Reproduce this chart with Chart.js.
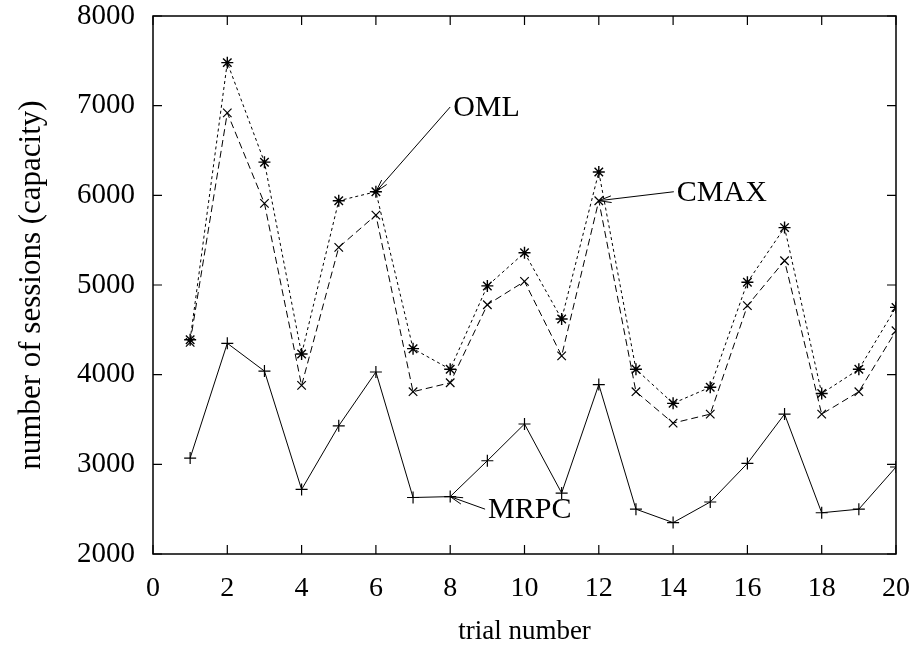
<!DOCTYPE html>
<html>
<head>
<meta charset="utf-8">
<script src="https://cdn.jsdelivr.net/npm/chart.js@4.4.1/dist/chart.umd.min.js"></script>
<style>
  html, body { margin: 0; padding: 0; background: #fff; }
  #wrap { width: 915px; height: 651px; }
</style>
</head>
<body>
<div id="wrap"><canvas id="line_chart" width="915" height="651"></canvas></div>
<script>
var trials = [1, 2, 3, 4, 5, 6, 7, 8, 9, 10, 11, 12, 13, 14, 15, 16, 17, 18, 19, 20];
var oml  = [4390, 7480, 6370, 4230, 5940, 6040, 4290, 4060, 4990, 5360, 4620, 6260, 4060, 3680, 3860, 5030, 5640, 3790, 4060, 4750];
var cmax = [4360, 6920, 5910, 3880, 5420, 5780, 3810, 3910, 4780, 5040, 4210, 5940, 3810, 3460, 3560, 4770, 5270, 3560, 3810, 4490];
var mrpc = [3070, 4350, 4040, 2720, 3430, 4030, 2630, 2640, 3040, 3450, 2680, 3890, 2500, 2350, 2580, 3010, 3560, 2460, 2500, 2970];
var xTicks = [0, 2, 4, 6, 8, 10, 12, 14, 16, 18, 20];
var yTicks = [2000, 3000, 4000, 5000, 6000, 7000, 8000];

// labels with arrows pointing at a series point
var labelNames = ['OML', 'CMAX', 'MRPC'];
var labelSeries = [oml, cmax, mrpc];
var labelTrial = [6, 12, 8];

var serif = '"Liberation Serif", "Times New Roman", serif';

function toPoints(ys) {
    return trials.map(function (t, i) { return { x: t, y: ys[i] }; });
}

var frame = {
    id: 'frame',
    afterDraw: function (chart) {
        var ctx = chart.ctx, a = chart.chartArea;
        var xs = chart.scales.x, ys = chart.scales.y;
        ctx.save();
        ctx.strokeStyle = '#000';
        ctx.lineWidth = 1.5;
        ctx.strokeRect(a.left, a.top, a.right - a.left, a.bottom - a.top);
        ctx.lineWidth = 1.2;
        ctx.beginPath();
        xTicks.forEach(function (v) {
            var px = xs.getPixelForValue(v);
            ctx.moveTo(px, a.bottom); ctx.lineTo(px, a.bottom - 9);
            ctx.moveTo(px, a.top); ctx.lineTo(px, a.top + 9);
        });
        yTicks.forEach(function (v) {
            var py = ys.getPixelForValue(v);
            ctx.moveTo(a.left, py); ctx.lineTo(a.left + 9, py);
            ctx.moveTo(a.right, py); ctx.lineTo(a.right - 9, py);
        });
        ctx.stroke();

        // annotations (text position in data units)
        var textPos = [[8.08, 6985], [14.1, 6040], [9.02, 2500]];
        ctx.font = '30px ' + serif;
        ctx.fillStyle = '#000';
        ctx.textBaseline = 'middle';
        ctx.lineWidth = 1;
        labelNames.forEach(function (name, i) {
            var tx = xs.getPixelForValue(textPos[i][0]);
            var ty = ys.getPixelForValue(textPos[i][1]);
            ctx.fillText(name, tx, ty + 1);
            var t = labelTrial[i];
            var ex = xs.getPixelForValue(t);
            var ey = ys.getPixelForValue(labelSeries[i][t - 1]);
            var sx = tx - 3, sy = ty;
            ctx.beginPath();
            ctx.moveTo(sx, sy); ctx.lineTo(ex, ey);
            var ang = Math.atan2(ey - sy, ex - sx);
            var len = 13, spread = 0.26;
            ctx.moveTo(ex, ey);
            ctx.lineTo(ex - len * Math.cos(ang - spread), ey - len * Math.sin(ang - spread));
            ctx.moveTo(ex, ey);
            ctx.lineTo(ex - len * Math.cos(ang + spread), ey - len * Math.sin(ang + spread));
            ctx.stroke();
        });
        ctx.restore();
    }
};

function getChartJs() {
    var config = {
        type: 'line',
        data: {
            datasets: [{
                label: 'OML',
                data: toPoints(oml),
                borderColor: '#000',
                borderWidth: 1,
                borderDash: [3, 3],
                pointStyle: 'star',
                pointRadius: 6,
                pointBorderWidth: 1.4,
                pointBorderColor: '#000',
                tension: 0
            }, {
                label: 'CMAX',
                data: toPoints(cmax),
                borderColor: '#000',
                borderWidth: 1,
                borderDash: [7, 4],
                pointStyle: 'crossRot',
                pointRadius: 6,
                pointBorderWidth: 1.2,
                pointBorderColor: '#000',
                tension: 0
            }, {
                label: 'MRPC',
                data: toPoints(mrpc),
                borderColor: '#000',
                borderWidth: 1,
                pointStyle: 'cross',
                pointRadius: 6,
                pointBorderWidth: 1.2,
                pointBorderColor: '#000',
                tension: 0
            }]
        },
        options: {
            responsive: false,
            animation: false,
            layout: { padding: { top: 16, right: 19, left: 0, bottom: 0 } },
            plugins: { legend: false, tooltip: { enabled: false } },
            scales: {
                x: {
                    type: 'linear',
                    min: 0, max: 20,
                    afterBuildTicks: function (s) { s.ticks = xTicks.map(function (v) { return { value: v }; }); },
                    afterFit: function (s) { s.height = 97; s.paddingLeft = 0; s.paddingRight = 0; },
                    grid: { display: false, drawTicks: false },
                    border: { display: false },
                    ticks: { color: '#000', padding: 18, maxRotation: 0, font: { family: serif, size: 28 } },
                    title: { display: true, text: 'trial number', color: '#000', padding: { top: 0, bottom: 3 }, font: { family: serif, size: 27 } }
                },
                y: {
                    type: 'linear',
                    min: 2000, max: 8000,
                    afterBuildTicks: function (s) { s.ticks = yTicks.map(function (v) { return { value: v }; }); },
                    afterFit: function (s) { s.width = 153; s.paddingTop = 0; s.paddingBottom = 0; },
                    grid: { display: false, drawTicks: false },
                    border: { display: false },
                    ticks: {
                        color: '#000', padding: 18, font: { family: serif, size: 29 },
                        callback: function (v) { return String(v); }
                    },
                    title: { display: true, text: 'number of sessions (capacity)', color: '#000', padding: { top: 13, bottom: 0 }, font: { family: serif, size: 31 } }
                }
            }
        },
        plugins: [frame]
    };
    return config;
}

new Chart(document.getElementById('line_chart').getContext('2d'), getChartJs());
</script>
</body>
</html>
